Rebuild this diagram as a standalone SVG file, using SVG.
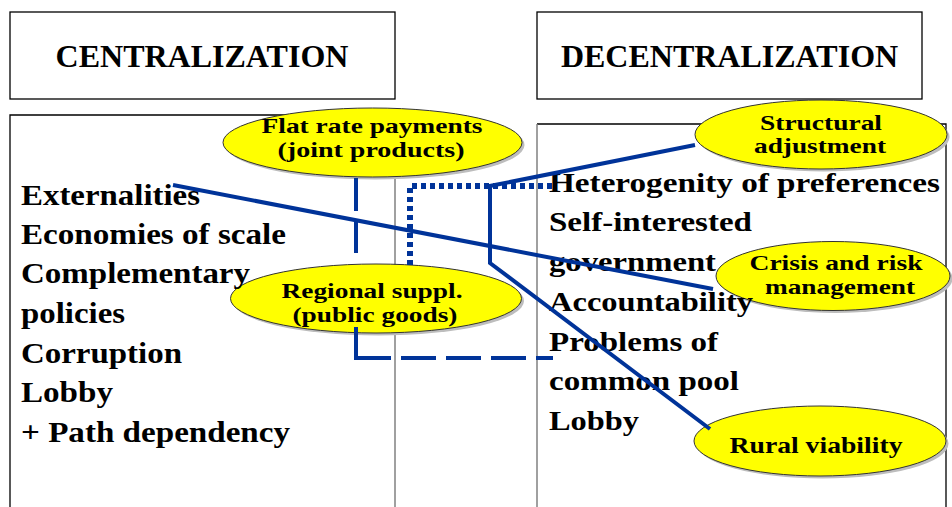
<svg xmlns="http://www.w3.org/2000/svg" width="952" height="507" viewBox="0 0 952 507">
<style>
.box{fill:#fff;stroke:#000;stroke-width:1.3}
.title{font-size:32px;fill:#000;text-anchor:middle}
.item{font-size:29px;fill:#000}
.ritem{font-size:28px;fill:#000}
.oval{fill:#ffff00;stroke:#333;stroke-width:1}
.shadow{fill:#bdbdbd}
.olabel{font-size:24px;fill:#000;text-anchor:middle}
.small{font-size:21px}
.con{fill:none;stroke:#003399;stroke-width:4}
.dotted{stroke-width:6;stroke-dasharray:5 4}
.dashed{stroke-dasharray:33 9}
</style>
<rect width="952" height="507" fill="#fff"/>
<g font-family="'Liberation Serif', 'Times New Roman', 'DejaVu Serif', serif" font-weight="bold">
<g id="centralization-title">
<rect class="box" x="10" y="12" width="385" height="87"/>
<text class="title" x="202" y="67">CENTRALIZATION</text>
</g>
<g id="decentralization-title">
<rect class="box" x="537" y="12" width="385" height="87"/>
<text class="title" x="729.5" y="67">DECENTRALIZATION</text>
</g>
<g id="centralization-box">
<path d="M10 512 V115 H395" fill="#fff" stroke="#000" stroke-width="1.3"/>
<line x1="395" y1="115" x2="395" y2="512" stroke="#808080" stroke-width="1.5"/>
</g>
<g id="decentralization-box">
<path d="M537 124 H946 V512" fill="#fff" stroke="#000" stroke-width="1.3"/>
<line x1="537" y1="124" x2="537" y2="512" stroke="#808080" stroke-width="1.5"/>
</g>
<g id="flat-rate">
<ellipse class="shadow" cx="375" cy="145" rx="149.5" ry="34.5"/>
<ellipse class="oval" cx="372.5" cy="142.5" rx="149.5" ry="34.5"/>
<text class="olabel small" x="372" y="133" textLength="221" lengthAdjust="spacingAndGlyphs">Flat rate payments</text>
<text class="olabel small" x="371" y="157" textLength="187" lengthAdjust="spacingAndGlyphs">(joint products)</text>
</g>
<g id="regional-suppl">
<ellipse class="shadow" cx="378.5" cy="301" rx="145.5" ry="34.5"/>
<ellipse class="oval" cx="376" cy="298.5" rx="145.5" ry="34.5"/>
<text class="olabel small" x="372" y="298" textLength="181" lengthAdjust="spacingAndGlyphs">Regional suppl.</text>
<text class="olabel small" x="375" y="322" textLength="165" lengthAdjust="spacingAndGlyphs">(public goods)</text>
</g>
<g id="structural-adjustment">
<ellipse class="shadow" cx="823.5" cy="137" rx="126" ry="34.5"/>
<ellipse class="oval" cx="821" cy="134.5" rx="126" ry="34.5"/>
<text class="olabel small" x="821" y="130" textLength="122" lengthAdjust="spacingAndGlyphs">Structural</text>
<text class="olabel small" x="820" y="153" textLength="132" lengthAdjust="spacingAndGlyphs">adjustment</text>
</g>
<g id="crisis-risk">
<ellipse class="shadow" cx="835.5" cy="278.5" rx="117" ry="34.5"/>
<ellipse class="oval" cx="833" cy="276" rx="117" ry="34.5"/>
<text class="olabel small" x="836" y="270" textLength="173" lengthAdjust="spacingAndGlyphs">Crisis and risk</text>
<text class="olabel small" x="840" y="294" textLength="150" lengthAdjust="spacingAndGlyphs">management</text>
</g>
<g id="rural-viability">
<ellipse class="shadow" cx="822.5" cy="443.5" rx="126" ry="35"/>
<ellipse class="oval" cx="820" cy="441" rx="126" ry="35"/>
<text class="olabel" x="816" y="453" textLength="173" lengthAdjust="spacingAndGlyphs">Rural viability</text>
</g>
<g id="centralization-list">
<text class="item" x="21" y="205" textLength="179" lengthAdjust="spacingAndGlyphs">Externalities</text>
<text class="item" x="21" y="244" textLength="265" lengthAdjust="spacingAndGlyphs">Economies of scale</text>
<text class="item" x="21" y="283" textLength="229" lengthAdjust="spacingAndGlyphs">Complementary</text>
<text class="item" x="21" y="323" textLength="104" lengthAdjust="spacingAndGlyphs">policies</text>
<text class="item" x="21" y="363" textLength="161" lengthAdjust="spacingAndGlyphs">Corruption</text>
<text class="item" x="21" y="402" textLength="92" lengthAdjust="spacingAndGlyphs">Lobby</text>
<text class="item" x="21" y="442" textLength="269" lengthAdjust="spacingAndGlyphs">+ Path dependency</text>
</g>
<g id="decentralization-list">
<text class="ritem" x="549" y="192" textLength="391" lengthAdjust="spacingAndGlyphs">Heterogenity of preferences</text>
<text class="ritem" x="549" y="231" textLength="203" lengthAdjust="spacingAndGlyphs">Self-interested</text>
<text class="ritem" x="549" y="271" textLength="167" lengthAdjust="spacingAndGlyphs">government</text>
<text class="ritem" x="549" y="311" textLength="204" lengthAdjust="spacingAndGlyphs">Accountability</text>
<text class="ritem" x="549" y="351" textLength="169" lengthAdjust="spacingAndGlyphs">Problems of</text>
<text class="ritem" x="549" y="390" textLength="190" lengthAdjust="spacingAndGlyphs">common pool</text>
<text class="ritem" x="549" y="430" textLength="90" lengthAdjust="spacingAndGlyphs">Lobby</text>
</g>
</g>
<g id="connectors">
<line class="con" x1="173" y1="185" x2="713" y2="289"/>
<polyline class="con" points="695,145 490,186 490,263 710,429"/>
<polyline class="con dotted" points="410,265 410,186 553,186"/>
<line class="con dashed" x1="356" y1="178" x2="356" y2="258"/>
<polyline class="con dashed" points="356,327 356,358 553,358" style="stroke-dasharray:66 10 35 10 35 10 35 10 35 10"/>
</g>
</svg>
